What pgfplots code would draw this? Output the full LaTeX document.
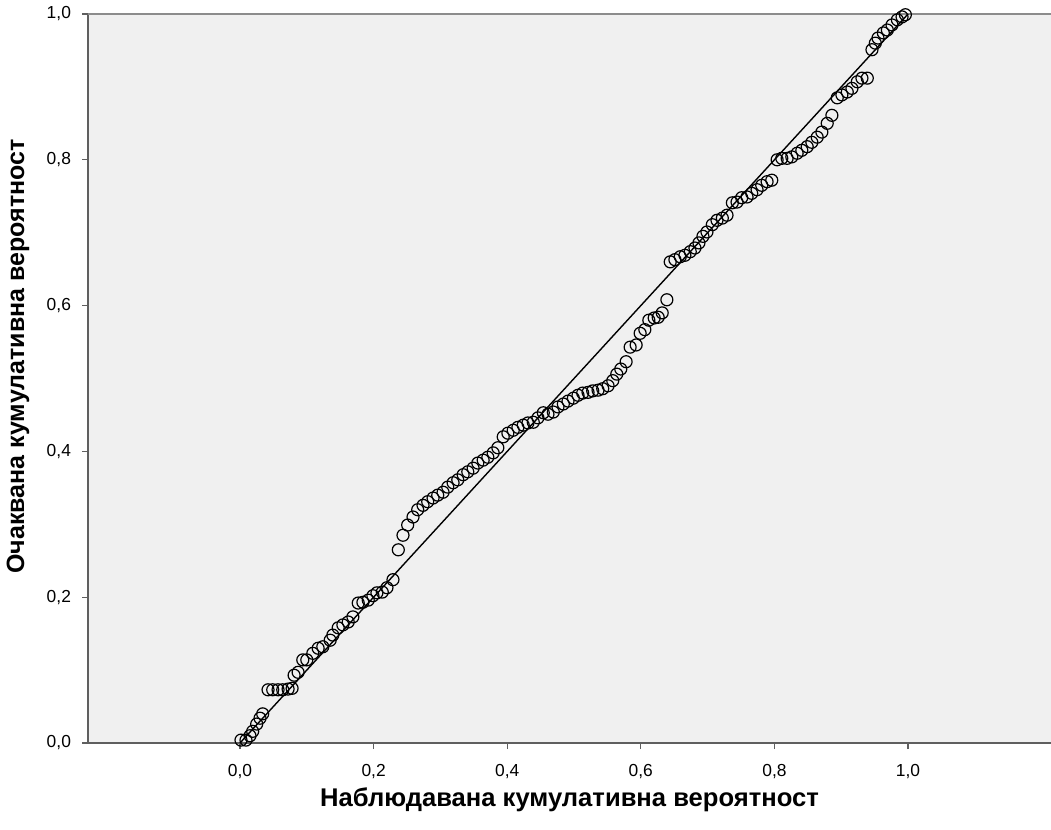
\documentclass[border=0pt]{standalone}
\usepackage{pgfplots}
\pgfplotsset{compat=1.18}
\usepackage{fontspec}
\setmainfont{Liberation Sans}
\usetikzlibrary{calc}
\definecolor{bgc}{RGB}{240,240,240}
\definecolor{axc}{RGB}{95,95,95}
\definecolor{topc}{RGB}{140,140,140}

% observed vs expected cumulative probability
\pgfplotstableread{
x y
0.0015 0.004
0.009 0.004
0.015 0.010
0.019 0.016
0.025 0.026
0.030 0.034
0.034 0.040
0.042 0.073
0.049 0.073
0.057 0.073
0.064 0.073
0.072 0.074
0.078 0.075
0.081 0.093
0.087 0.097
0.094 0.114
0.100 0.114
0.109 0.123
0.117 0.130
0.124 0.132
0.135 0.141
0.139 0.148
0.147 0.158
0.154 0.162
0.162 0.166
0.169 0.173
0.177 0.192
0.184 0.193
0.192 0.196
0.199 0.202
0.205 0.206
0.213 0.207
0.220 0.213
0.229 0.224
0.237 0.265
0.244 0.285
0.251 0.299
0.259 0.310
0.266 0.320
0.274 0.326
0.281 0.331
0.289 0.336
0.296 0.340
0.304 0.344
0.311 0.351
0.319 0.357
0.326 0.361
0.334 0.368
0.341 0.372
0.349 0.377
0.356 0.384
0.364 0.388
0.371 0.392
0.379 0.398
0.386 0.405
0.394 0.420
0.401 0.425
0.409 0.429
0.416 0.433
0.424 0.436
0.431 0.439
0.439 0.440
0.446 0.446
0.454 0.453
0.461 0.451
0.469 0.454
0.476 0.461
0.484 0.465
0.491 0.469
0.499 0.473
0.506 0.477
0.513 0.480
0.521 0.481
0.528 0.483
0.536 0.484
0.543 0.486
0.551 0.490
0.558 0.497
0.564 0.506
0.570 0.513
0.578 0.523
0.584 0.543
0.593 0.546
0.599 0.562
0.606 0.567
0.612 0.580
0.620 0.583
0.626 0.584
0.632 0.590
0.639 0.608
0.644 0.660
0.651 0.663
0.659 0.667
0.666 0.669
0.674 0.674
0.681 0.679
0.687 0.686
0.693 0.695
0.699 0.701
0.707 0.711
0.714 0.717
0.722 0.720
0.729 0.724
0.737 0.741
0.744 0.742
0.751 0.748
0.759 0.749
0.766 0.754
0.774 0.759
0.781 0.765
0.789 0.770
0.796 0.772
0.804 0.800
0.811 0.802
0.819 0.802
0.826 0.804
0.834 0.809
0.841 0.813
0.849 0.818
0.856 0.824
0.864 0.831
0.871 0.838
0.879 0.850
0.886 0.861
0.894 0.885
0.901 0.889
0.909 0.893
0.916 0.898
0.924 0.907
0.931 0.912
0.939 0.912
0.946 0.951
0.951 0.960
0.955 0.967
0.963 0.974
0.969 0.978
0.976 0.985
0.984 0.992
0.991 0.996
0.996 0.999
}\pp

\begin{document}
\begin{tikzpicture}
\begin{axis}[
    scale only axis,
    width=481.5pt, height=364.5pt,
    xmin=-0.2275, xmax=1.214,
    ymin=0, ymax=1,
    axis background/.style={fill=bgc},
    axis line style={draw=none},
    xtick={0,0.2,0.4,0.6,0.8,1},
    ytick={0,0.2,0.4,0.6,0.8,1},
    xtick pos=bottom, ytick pos=left,
    tick align=outside,
    major tick length=3pt,
    tick style={axc, line width=0.6pt},
    ticklabel style={font=\fontsize{8.7}{10}\selectfont},
    /pgf/number format/.cd, fixed, fixed zerofill, precision=1, use comma, assume math mode=true,
    /pgfplots/.cd,
    xticklabel style={yshift=-4pt},
    yticklabel style={xshift=-2pt},
    xlabel={\bfseries\fontsize{12.8}{14}\selectfont Наблюдавана кумулативна вероятност},
    ylabel={\bfseries\fontsize{12.5}{14}\selectfont Очаквана кумулативна вероятност},
    xlabel style={at={(axis description cs:0.5,0)}, anchor=center, yshift=-28.5pt},
    ylabel style={at={(axis description cs:0,0.5)}, anchor=center, yshift=35pt, xshift=11pt},
    clip=false,
]
\draw[axc, line width=1.3pt] (rel axis cs:0,0) -- (rel axis cs:0,1);
\draw[axc, line width=1.3pt] (rel axis cs:0,0) -- (rel axis cs:1,0);
\draw[topc, line width=1pt] (rel axis cs:0,1) -- (rel axis cs:1,1);
\addplot[black, line width=0.7pt, no marks] coordinates {(0,0) (1,1)};
\addplot[only marks, mark=o, mark size=3pt, black, mark options={line width=0.6pt}] table {\pp};
\coordinate (ll) at (rel axis cs:0,0);
\coordinate (ur) at (rel axis cs:1,1);
\end{axis}
\pgfresetboundingbox
\path[use as bounding box] ($(ll)+(-44pt,-43pt)$) rectangle ($(ur)+(0,7pt)$);
\end{tikzpicture}
\end{document}
